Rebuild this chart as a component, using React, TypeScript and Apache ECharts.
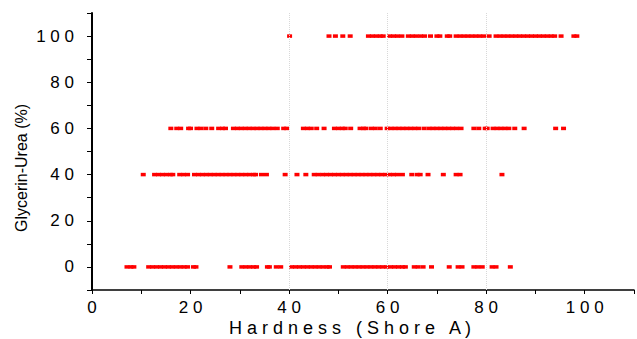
import React, { useEffect, useRef } from "react";
import * as echarts from "echarts";

const xTicks = [0, 20, 40, 60, 80, 100];
const yTicks = [0, 20, 40, 60, 80, 100];
const gridXs = [40, 60, 80];

const hardness100 = [40.1, 48.1, 49.4, 50.9, 52.4, 56.1, 56.9, 57.7, 58.5, 59.1, 60.4, 61.2, 62.0, 62.9, 64.2, 65.0, 65.8, 66.7, 67.5, 68.7, 70.0, 70.6, 72.1, 72.6, 73.9, 74.7, 75.5, 76.3, 77.1, 77.9, 78.7, 79.5, 80.6, 82.0, 82.8, 83.6, 84.4, 85.2, 86.0, 86.8, 87.6, 88.4, 89.2, 90.0, 90.8, 91.6, 92.4, 93.2, 93.9, 95.2, 97.8, 98.4];
const hardness60 = [16.0, 17.2, 18.0, 19.6, 20.0, 21.3, 22.1, 23.1, 24.3, 25.7, 26.5, 27.1, 28.7, 29.5, 30.3, 31.1, 31.9, 32.7, 33.5, 34.3, 35.1, 35.9, 36.7, 37.6, 38.9, 39.5, 42.9, 43.7, 44.5, 45.6, 47.1, 49.2, 50.0, 50.8, 51.4, 52.5, 54.4, 55.1, 55.6, 56.7, 57.5, 58.5, 59.9, 60.7, 61.5, 62.3, 63.1, 63.9, 64.7, 65.5, 66.3, 67.4, 68.4, 69.2, 70.0, 70.8, 71.6, 72.4, 73.2, 74.0, 74.9, 77.5, 78.5, 79.8, 80.2, 81.4, 82.2, 83.0, 83.8, 84.6, 85.8, 87.7, 94.1, 95.7];
const hardness40 = [10.4, 12.7, 13.5, 14.3, 15.1, 15.9, 16.4, 17.8, 18.6, 19.4, 20.8, 21.6, 22.4, 23.2, 24.0, 24.8, 25.6, 26.4, 27.2, 28.0, 28.8, 29.6, 30.4, 31.2, 32.0, 32.8, 33.2, 34.4, 35.4, 39.2, 41.6, 43.4, 45.1, 45.9, 46.8, 47.6, 48.4, 49.2, 50.0, 50.8, 51.6, 52.4, 53.2, 54.0, 54.8, 55.6, 56.4, 57.2, 58.0, 58.8, 59.6, 60.4, 61.2, 62.0, 63.0, 64.9, 66.0, 66.6, 68.2, 71.3, 73.9, 74.7, 83.2];
const hardness0 = [7.1, 7.9, 8.5, 11.5, 12.3, 13.1, 13.9, 14.7, 15.5, 16.3, 17.1, 17.9, 18.7, 19.4, 20.6, 21.1, 28.0, 30.4, 31.2, 32.0, 32.8, 33.4, 35.6, 36.0, 37.4, 38.3, 40.5, 41.3, 42.1, 42.9, 43.7, 44.5, 45.3, 46.1, 46.9, 47.7, 48.2, 51.0, 51.8, 52.6, 53.4, 54.2, 55.0, 55.8, 56.6, 57.4, 58.2, 59.0, 59.8, 60.6, 61.4, 62.2, 63.0, 63.6, 65.4, 66.2, 67.2, 68.9, 72.5, 74.3, 75.1, 77.5, 78.3, 79.2, 81.2, 82.0, 84.9];

const rows: [number, number[]][] = [
  [100, hardness100],
  [60, hardness60],
  [40, hardness40],
  [0, hardness0],
];

const spaced = (s: string) => s.split("").join(" ");

export default function App() {
  const ref = useRef<HTMLDivElement>(null);
  useEffect(() => {
    if (!ref.current) return;
    const chart = echarts.init(ref.current, null, { renderer: "svg" });
    const data: number[][] = [];
    rows.forEach(([y, xs]) => xs.forEach((x) => data.push([x, y])));
    const font = "Liberation Sans, Arial, sans-serif";
    chart.setOption({
      animation: false,
      backgroundColor: "#ffffff",
      grid: { left: 92, right: 2, top: 13, bottom: 49, containLabel: false },
      xAxis: {
        type: "value",
        min: 0,
        max: 110,
        interval: 10,
        axisLine: { show: true, onZero: false, lineStyle: { color: "#000", width: 1.5 } },
        axisTick: { show: true, length: 4, lineStyle: { color: "#000", width: 1 } },
        axisLabel: {
          margin: 9,
          color: "#000",
          fontFamily: font,
          fontSize: 17,
          formatter: (v: number) => (xTicks.includes(v) ? spaced(String(v)) : ""),
        },
        splitLine: { show: false },
      },
      yAxis: {
        type: "value",
        min: -10,
        max: 110,
        interval: 10,
        axisLine: { show: true, onZero: false, lineStyle: { color: "#000", width: 2 } },
        axisTick: { show: true, length: 5, lineStyle: { color: "#000", width: 1 } },
        axisLabel: {
          margin: 18,
          color: "#000",
          fontFamily: font,
          fontSize: 17,
          formatter: (v: number) => (yTicks.includes(v) ? spaced(String(v)) : ""),
        },
        splitLine: { show: false },
      },
      graphic: [
        {
          type: "text",
          x: 21,
          y: 168,
          rotation: Math.PI / 2,
          style: {
            text: "Glycerin-Urea (%)",
            fontFamily: font,
            fontSize: 16,
            fill: "#000",
            align: "center",
            verticalAlign: "middle",
          },
        },
        {
          type: "text",
          x: 350,
          y: 328,
          style: {
            text: "H a r d n e s s   ( S h o r e   A )",
            fontFamily: font,
            fontSize: 18,
            fill: "#000",
            align: "center",
            verticalAlign: "middle",
          },
        },
      ],
      series: [
        {
          type: "scatter",
          data,
          symbol: "rect",
          symbolSize: [5, 3.5],
          itemStyle: { color: "#ff0000", opacity: 1 },
          markLine: {
            silent: true,
            symbol: ["none", "none"],
            label: { show: false },
            lineStyle: { color: "#d8d8d8", type: "dotted", width: 1 },
            data: gridXs.map((x) => ({ xAxis: x })),
          },
          z: 3,
        },
      ],
    });
    return () => chart.dispose();
  }, []);
  return (
    <div
      ref={ref}
      style={{ position: "fixed", left: 0, top: 0, width: 637, height: 339, background: "#fff" }}
    />
  );
}
